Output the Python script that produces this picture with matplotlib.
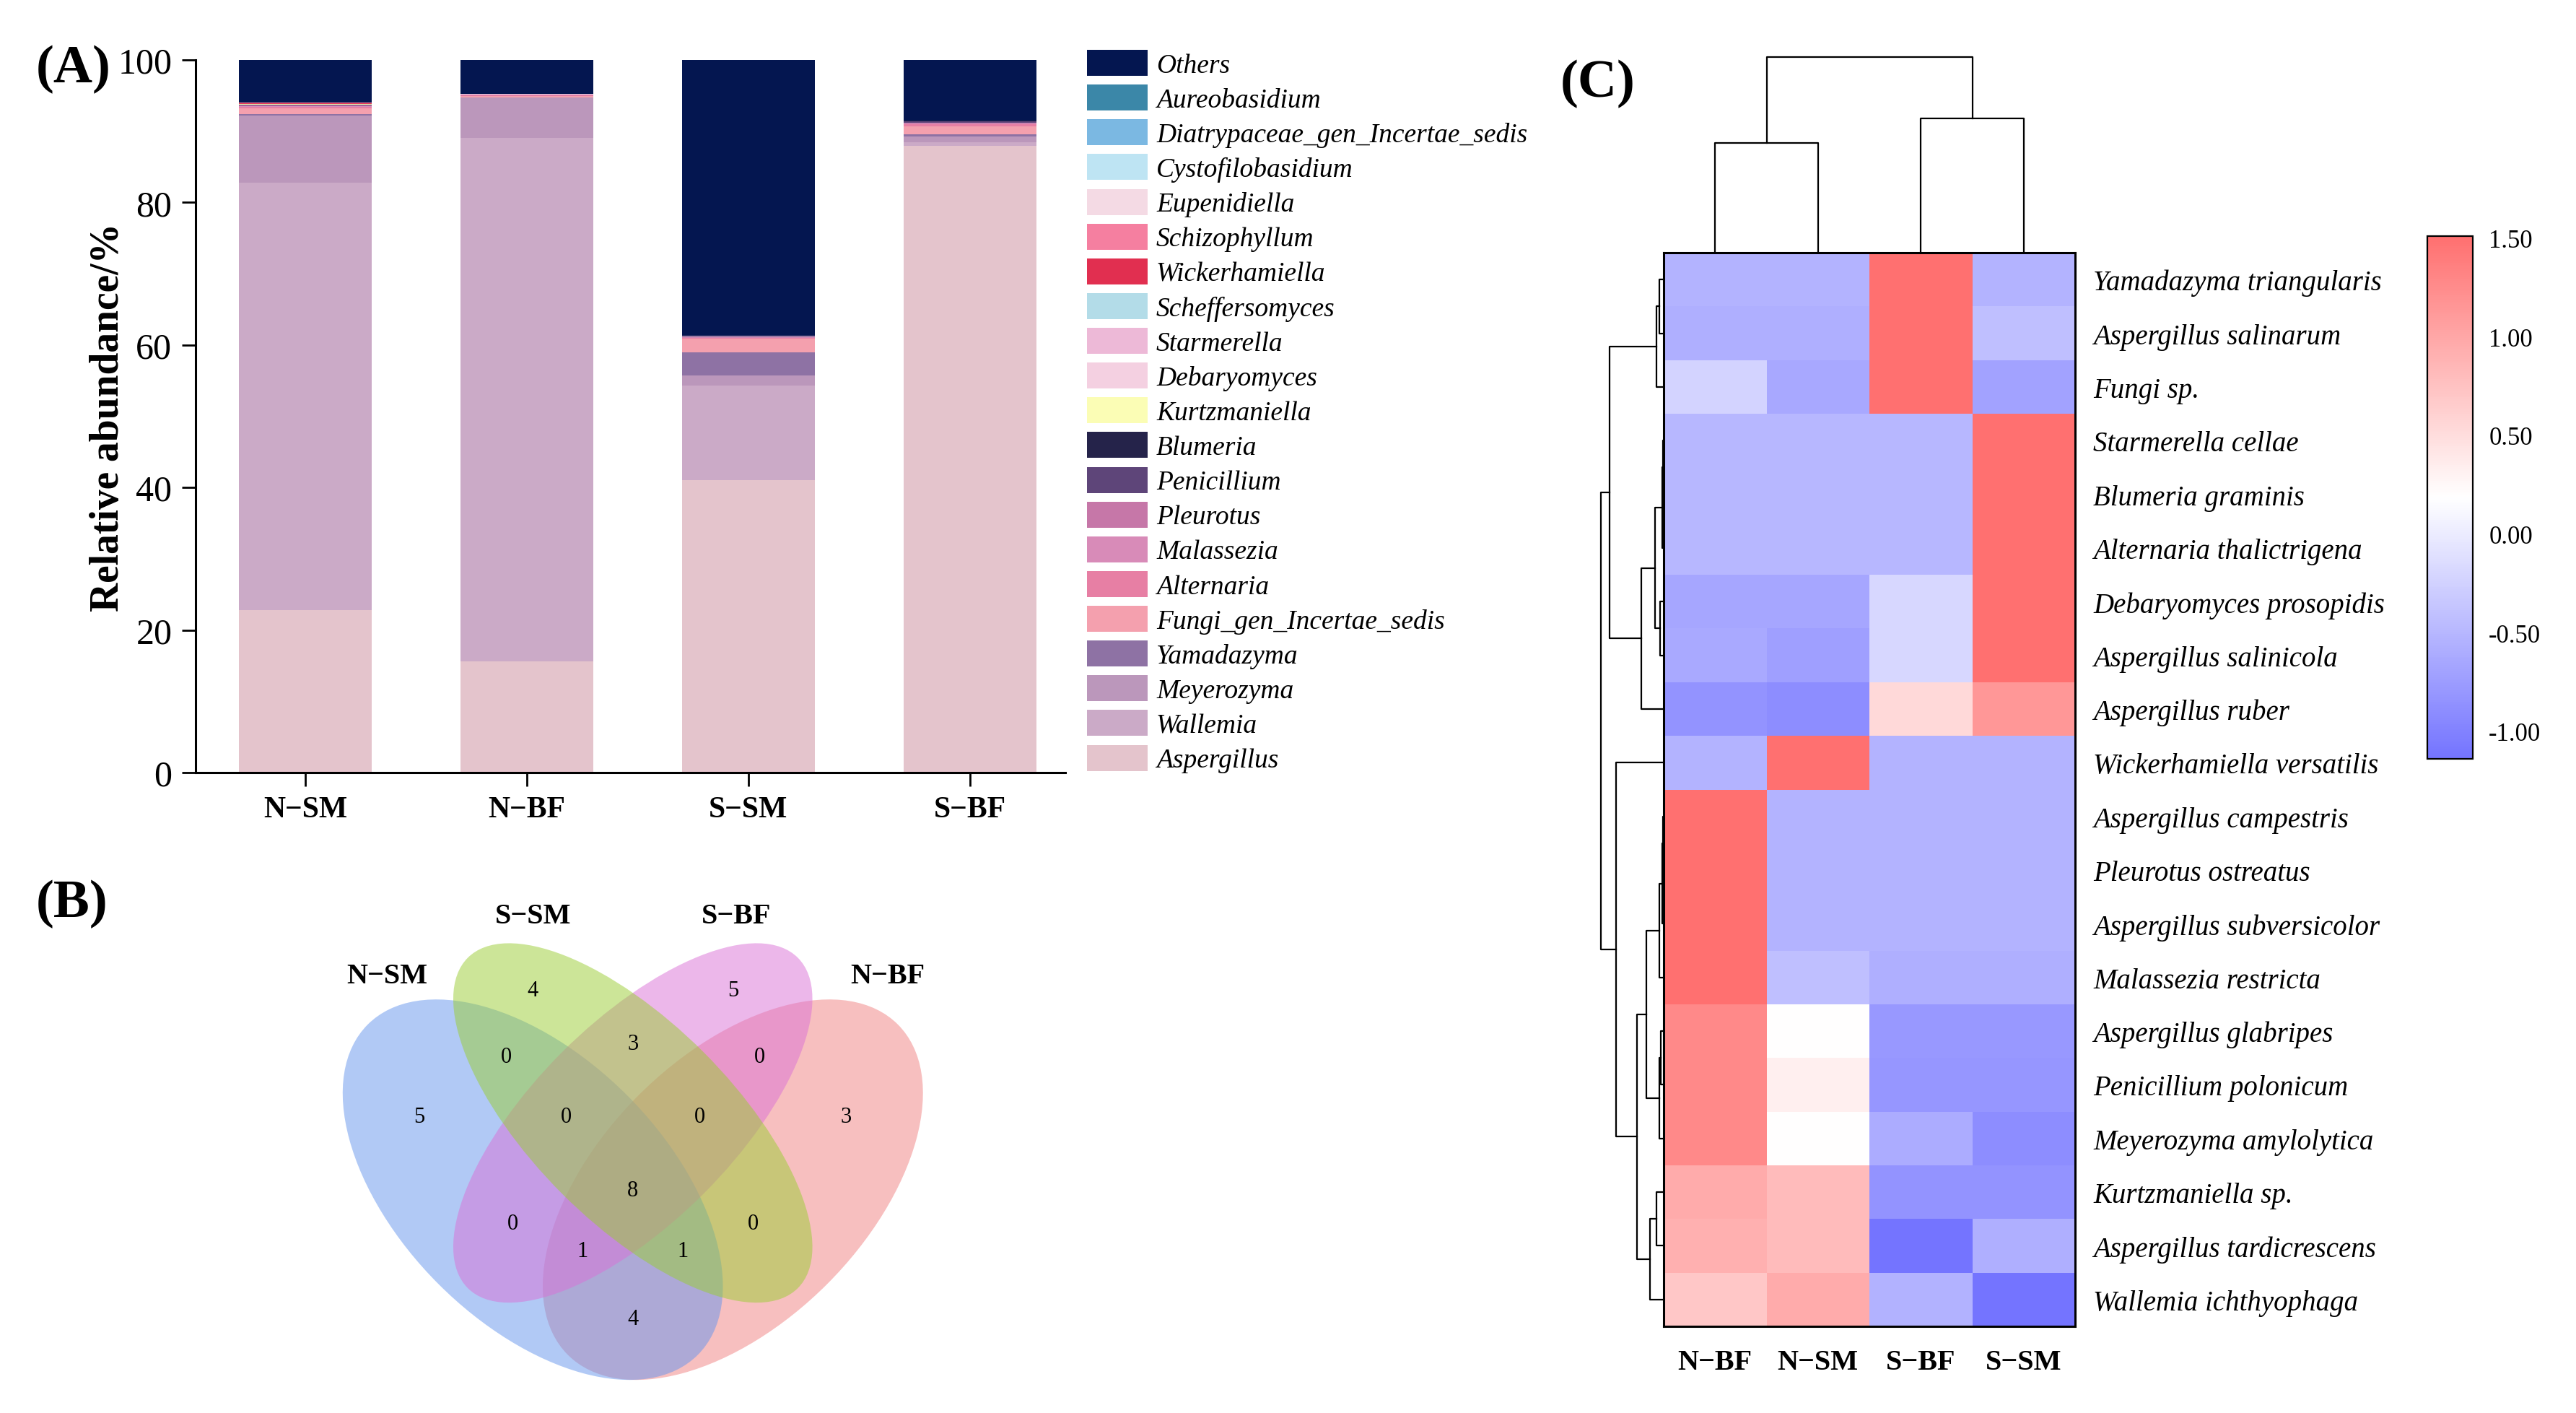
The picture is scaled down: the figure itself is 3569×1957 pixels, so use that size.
import numpy as np
import matplotlib
matplotlib.use('Agg')
import matplotlib.pyplot as plt
from matplotlib.patches import Patch, Ellipse
from matplotlib.colors import LinearSegmentedColormap

plt.rcParams['font.family'] = ['Liberation Serif', 'DejaVu Serif']
plt.rcParams['axes.unicode_minus'] = False

W, H = 3569, 1958

# ---------------- (A) stacked bars ----------------
samples = ['N−SM', 'N−BF', 'S−SM', 'S−BF']
genera = ['Aspergillus', 'Wallemia', 'Meyerozyma', 'Yamadazyma', 'Fungi_gen_Incertae_sedis',
          'Alternaria', 'Malassezia', 'Pleurotus', 'Penicillium', 'Blumeria', 'Kurtzmaniella',
          'Debaryomyces', 'Starmerella', 'Scheffersomyces', 'Wickerhamiella', 'Schizophyllum',
          'Eupenidiella', 'Cystofilobasidium', 'Diatrypaceae_gen_Incertae_sedis', 'Aureobasidium',
          'Others']
genus_colors = ['#e4c4cc', '#cbaac7', '#bb97bb', '#8e72a4', '#f4a0ae', '#e77fa4', '#d88bb8',
                '#c677a8', '#5e4579', '#25234a', '#fbfdb5', '#f4d0e1', '#edb9d7', '#b3dce8',
                '#e12f50', '#f57fa0', '#f4dae4', '#bee4f3', '#7bb8e2', '#3b87a8', '#041650']
# relative abundance (%) per sample, same order as genera
n_sm = [22.8, 60.0, 9.4, 0.2, 0.8, 0.2, 0.1, 0.1, 0.1, 0.0, 0.1, 0.05, 0.0, 0.0, 0.1, 0.05,
        0.0, 0.0, 0.0, 0.0, 6.0]
n_bf = [15.6, 73.5, 5.6, 0.05, 0.2, 0.05, 0.05, 0.05, 0.02, 0.0, 0.05, 0.03, 0.0, 0.0, 0.0, 0.0,
        0.0, 0.0, 0.0, 0.0, 4.8]
s_sm = [41.0, 13.3, 1.4, 3.3, 1.9, 0.1, 0.05, 0.05, 0.05, 0.05, 0.0, 0.0, 0.05, 0.0, 0.0, 0.0,
        0.0, 0.0, 0.0, 0.0, 38.75]
s_bf = [87.9, 0.6, 0.8, 0.3, 1.1, 0.3, 0.1, 0.1, 0.2, 0.05, 0.0, 0.0, 0.0, 0.0, 0.0, 0.0,
        0.0, 0.0, 0.0, 0.0, 8.55]

# ---------------- (B) venn ----------------
venn_sets = ['N−SM', 'S−SM', 'S−BF', 'N−BF']
venn_colors = ['cornflowerblue', 'yellowgreen', 'orchid', 'lightcoral']
# region key: membership in (N-SM, S-SM, S-BF, N-BF)
venn_counts = {'1000': 5, '0100': 4, '0010': 5, '0001': 3, '1100': 0, '0110': 3, '0011': 0,
               '1110': 0, '0111': 0, '1111': 8, '1010': 0, '0101': 0, '1011': 1, '1101': 1,
               '1001': 4}

# ---------------- (C) heatmap ----------------
hm_rows = ['Yamadazyma triangularis', 'Aspergillus salinarum', 'Fungi sp.', 'Starmerella cellae',
           'Blumeria graminis', 'Alternaria thalictrigena', 'Debaryomyces prosopidis',
           'Aspergillus salinicola', 'Aspergillus ruber', 'Wickerhamiella versatilis',
           'Aspergillus campestris', 'Pleurotus ostreatus', 'Aspergillus subversicolor',
           'Malassezia restricta', 'Aspergillus glabripes', 'Penicillium polonicum',
           'Meyerozyma amylolytica', 'Kurtzmaniella sp.', 'Aspergillus tardicrescens',
           'Wallemia ichthyophaga']
hm_cols = ['N−BF', 'N−SM', 'S−BF', 'S−SM']
z_nbf = [-0.53, -0.58, -0.23, -0.50, -0.50, -0.50, -0.66, -0.63, -0.85, -0.53,
         1.50, 1.50, 1.50, 1.50, 1.28, 1.28, 1.28, 0.96, 0.91, 0.70]
z_nsm = [-0.53, -0.58, -0.64, -0.50, -0.50, -0.50, -0.66, -0.73, -0.90, 1.50,
         -0.53, -0.53, -0.53, -0.42, 0.19, 0.33, 0.185, 0.81, 0.81, 0.96]
z_sbf = [1.50, 1.50, 1.50, -0.50, -0.50, -0.50, -0.19, -0.19, 0.53, -0.53,
         -0.53, -0.53, -0.53, -0.58, -0.79, -0.81, -0.61, -0.85, -1.14, -0.54]
z_ssm = [-0.53, -0.42, -0.70, 1.50, 1.50, 1.50, 1.50, 1.51, 1.14, -0.53,
         -0.53, -0.53, -0.53, -0.58, -0.79, -0.81, -0.90, -0.85, -0.58, -1.14]
# dendrograms: (child a, child b, merge height); new nodes numbered after leaves
col_merges = [(0, 1, 152), (2, 3, 186), (4, 5, 271)]
row_merges = [(0, 1, 6), (20, 2, 10), (3, 4, 1), (22, 5, 2), (6, 7, 5), (23, 24, 12),
              (25, 8, 31), (21, 26, 75), (10, 11, 1), (28, 12, 2), (29, 13, 6), (14, 15, 4),
              (31, 16, 6), (30, 32, 24), (17, 18, 10), (34, 19, 19), (33, 35, 37),
              (9, 36, 66), (27, 37, 87)]

fig = plt.figure(figsize=(W / 100, H / 100), dpi=100)


def box(x0, y0, x1, y1):
    # pixel box (top-left origin) -> figure fraction rect
    return [x0 / W, 1 - y1 / H, (x1 - x0) / W, (y1 - y0) / H]


# ---- A
ax = fig.add_axes(box(271, 84, 1476, 1071))
x = np.arange(len(samples))
bottom = np.zeros(len(samples))
for i, g in enumerate(genera):
    vals = np.array([n_sm[i], n_bf[i], s_sm[i], s_bf[i]])
    ax.bar(x, vals, 0.6, bottom=bottom, color=genus_colors[i], label=g, linewidth=0)
    bottom += vals
ax.set_xlim(-0.495, 3.43)
ax.set_ylim(0, 100)
ax.set_yticks([0, 20, 40, 60, 80, 100])
ax.set_xticks(x)
ax.set_xticklabels(samples, fontweight='bold', fontsize=30)
ax.tick_params(axis='y', labelsize=36, length=13.5, width=2, pad=10)
ax.tick_params(axis='x', length=14, width=2, pad=9)
ax.set_ylabel('Relative abundance/%', fontsize=40, fontweight='bold')
ax.yaxis.set_label_coords(-0.079, 0.5)
for s in ['top', 'right']:
    ax.spines[s].set_visible(False)
for s in ['left', 'bottom']:
    ax.spines[s].set_linewidth(2.2)

handles = [Patch(facecolor=genus_colors[i], edgecolor='none') for i in range(len(genera))][::-1]
fig.legend(handles, genera[::-1], loc='upper left', bbox_to_anchor=(1506 / W, 1 - 70 / H),
           frameon=False, borderpad=0, borderaxespad=0, handlelength=2.24, handleheight=1.1,
           handletextpad=0.32, labelspacing=0.25, prop={'family': 'Liberation Serif',
                                                         'style': 'italic', 'size': 27})

# ---- B
axv = fig.add_axes(box(400, 1230, 1360, 1950))
axv.set_xlim(-0.016, 1.023)
axv.set_ylim(0.144, 0.923)
axv.axis('off')
ell = [(0.35, 0.47, 0.70, 0.40, 135), (0.50, 0.57, 0.70, 0.30, 135),
       (0.50, 0.57, 0.70, 0.30, 45), (0.65, 0.47, 0.70, 0.40, 45)]
# drawing order of the reference: N-BF, N-SM, S-BF, S-SM
for k in [3, 0, 2, 1]:
    cx, cy, w, h, a = ell[k]
    axv.add_patch(Ellipse((cx, cy), w, h, angle=a, facecolor=venn_colors[k], alpha=0.5,
                          edgecolor='none'))
count_pos = {'1000': (0.18, 0.579), '0100': (0.35, 0.769), '0010': (0.65, 0.769),
             '0001': (0.82, 0.579), '1100': (0.31, 0.669), '0110': (0.50, 0.689),
             '0011': (0.69, 0.669), '1110': (0.40, 0.579), '0111': (0.60, 0.579),
             '1111': (0.50, 0.469), '1010': (0.32, 0.419), '0101': (0.68, 0.419),
             '1011': (0.425, 0.378), '1101': (0.575, 0.378), '1001': (0.50, 0.277)}
for k, v in venn_counts.items():
    axv.text(*count_pos[k], str(v), ha='center', va='center', fontsize=22)
set_pos = [(0.132, 0.790), (0.351, 0.880), (0.655, 0.880), (0.882, 0.790)]
for name, (px, py) in zip(venn_sets, set_pos):
    axv.text(px, py, name, ha='center', va='center', fontsize=29, fontweight='bold')

# ---- C
cmap = LinearSegmentedColormap.from_list('bwr_soft', ['#7474ff', '#ffffff', '#ff7070'])
data = np.column_stack([z_nbf, z_nsm, z_sbf, z_ssm])
axh = fig.add_axes(box(2305, 351, 2875, 1838))
im = axh.pcolormesh(data, cmap=cmap, vmin=-1.14, vmax=1.51)
axh.set_xlim(0, 4)
axh.set_ylim(len(hm_rows), 0)
axh.yaxis.tick_right()
axh.set_yticks(np.arange(len(hm_rows)) + 0.5)
axh.set_yticklabels(hm_rows, fontstyle='italic', fontsize=28)
axh.set_xticks(np.arange(4) + 0.5)
axh.set_xticklabels(hm_cols, fontweight='bold', fontsize=29)
axh.tick_params(axis='y', length=0, pad=18)
axh.tick_params(axis='x', length=0, pad=22)
for s in axh.spines.values():
    s.set_linewidth(2.2)


def draw_dendro(a, merges, n, top):
    pos = {i: i + 0.5 for i in range(n)}
    hgt = {i: 0.0 for i in range(n)}
    for k, (l, r, h) in enumerate(merges):
        xs = [pos[l], pos[l], pos[r], pos[r]]
        ys = [hgt[l], h, h, hgt[r]]
        if top:
            a.plot(xs, ys, color='black', lw=1.6, clip_on=False)
        else:
            a.plot(ys, xs, color='black', lw=1.6, clip_on=False)
        pos[n + k] = (pos[l] + pos[r]) / 2
        hgt[n + k] = h


axd = fig.add_axes(box(2305, 80, 2875, 351))
draw_dendro(axd, col_merges, 4, True)
axd.set_xlim(0, 4)
axd.set_ylim(0, 271)
axd.axis('off')

axr = fig.add_axes(box(2218, 351, 2305, 1838))
draw_dendro(axr, row_merges, 20, False)
axr.set_xlim(87, 0)
axr.set_ylim(20, 0)
axr.axis('off')

cax = fig.add_axes(box(3363, 328, 3426, 1052))
cb = fig.colorbar(im, cax=cax, ticks=[1.5, 1.0, 0.5, 0.0, -0.5, -1.0], format='%.2f')
cb.ax.tick_params(length=0, labelsize=25, pad=16)
cb.outline.set_linewidth(1.6)

# panel letters
fig.text(50 / W, 1 - 62 / H, '(A)', fontsize=54, fontweight='bold', va='top')
fig.text(50 / W, 1 - 1218 / H, '(B)', fontsize=54, fontweight='bold', va='top')
fig.text(2162 / W, 1 - 82 / H, '(C)', fontsize=54, fontweight='bold', va='top')

fig.savefig('out.png', dpi=100, facecolor='white')
